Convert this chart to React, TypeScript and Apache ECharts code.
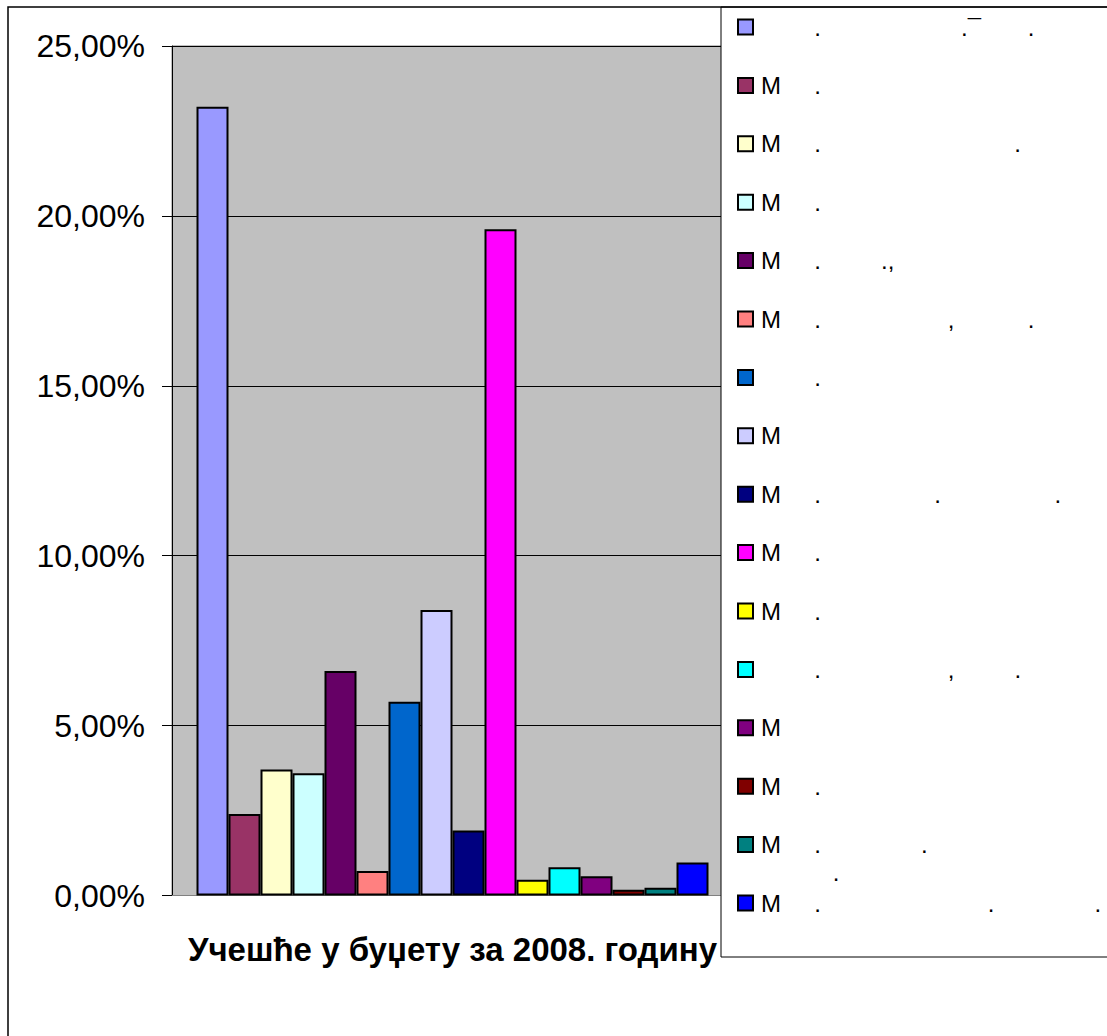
import React, { useEffect, useRef } from "react";
import * as echarts from "echarts";

const categories = ["Учешће у буџету за 2008. годину"];
const values = [23.21, 2.4, 3.71, 3.6, 6.61, 0.72, 5.7, 8.4, 1.91, 19.61, 0.46, 0.83, 0.57, 0.17, 0.23, 0.97];
const colors = [
  "#9999FF", "#993366", "#FFFFCC", "#CCFFFF", "#660066", "#FF8080", "#0066CC", "#CCCCFF",
  "#000080", "#FF00FF", "#FFFF00", "#00FFFF", "#800080", "#800000", "#008080", "#0000FF",
];
const sp = (n: number) => "\u00a0".repeat(n);
const legendLabels = [
  sp(8) + "." + sp(21) + ".\u00af" + sp(7) + ".",
  "M" + sp(5) + ".",
  "M" + sp(5) + "." + sp(29) + ".",
  "M" + sp(5) + ".",
  "M" + sp(5) + "." + sp(9) + ".,",
  "M" + sp(5) + "." + sp(19) + "," + sp(11) + ".",
  sp(8) + ".",
  "M",
  "M" + sp(5) + "." + sp(17) + "." + sp(17) + ".",
  "M" + sp(5) + ".",
  "M" + sp(5) + ".",
  sp(8) + "." + sp(19) + "," + sp(9) + ".",
  "M",
  "M" + sp(5) + ".",
  "M" + sp(5) + "." + sp(15) + ".",
  "M" + sp(5) + "." + sp(25) + "." + sp(15) + ".",
];
const yMin = 0;
const yMax = 25;
const yInterval = 5;

const FONT = "Liberation Sans, Arial, sans-serif";

export default function App() {
  const ref = useRef<HTMLDivElement>(null);
  useEffect(() => {
    if (!ref.current) return;
    const chart = echarts.init(ref.current, undefined, { renderer: "svg" });
    const seriesNames = values.map((_, i) => "s" + (i + 1));
    chart.setOption({
      animation: false,
      backgroundColor: "#FFFFFF",
      textStyle: { fontFamily: FONT },
      grid: {
        left: 172,
        top: 46,
        width: 561,
        height: 849.5,
        show: true,
        backgroundColor: "#C0C0C0",
        borderColor: "#808080",
        borderWidth: 1,
      },
      xAxis: {
        type: "category",
        data: categories,
        axisLine: { show: true, lineStyle: { color: "#808080", width: 1 } },
        axisTick: { show: false },
        axisLabel: {
          color: "#000",
          fontSize: 33,
          fontWeight: "bold",
          fontFamily: FONT,
          margin: 37,
        },
      },
      yAxis: {
        type: "value",
        min: yMin,
        max: yMax,
        interval: yInterval,
        axisLine: { show: true, lineStyle: { color: "#000", width: 1 } },
        axisTick: { show: true, length: 10, lineStyle: { color: "#000", width: 1 } },
        splitLine: { show: true, lineStyle: { color: "#000", width: 1 } },
        axisLabel: {
          color: "#000",
          fontSize: 32,
          fontFamily: FONT,
          margin: 27,
          formatter: (v: number) => v.toFixed(2).replace(".", ",") + "%",
        },
      },
      legend: {
        orient: "vertical",
        left: 737,
        top: 15,
        padding: 0,
        itemWidth: 15,
        itemHeight: 15,
        itemGap: 34.4,
        icon: "rect",
        selectedMode: false,
        data: seriesNames,
        formatter: (name: string) => legendLabels[seriesNames.indexOf(name)],
        textStyle: {
          color: "#000",
          fontSize: 24,
          lineHeight: 24,
          fontFamily: FONT,
          padding: [0, 0, 0, 3],
        },
        z: 5,
      },
      graphic: [
        {
          type: "rect",
          z: 3,
          shape: { x: 721, y: 7, width: 500, height: 950 },
          style: { fill: "#FFFFFF", stroke: "#000", lineWidth: 1 },
        },
        {
          type: "text",
          z: 6,
          x: 832.7,
          y: 872,
          style: { text: ".", fill: "#000", font: "24px " + FONT, textVerticalAlign: "middle" },
        },
        {
          type: "rect",
          z: 10,
          shape: { x: 8, y: 7, width: 1300, height: 1200 },
          style: { fill: "none", stroke: "#000", lineWidth: 1.5 },
        },
      ],
      series: values.map((v, i) => ({
        name: seriesNames[i],
        type: "bar",
        data: [v],
        barWidth: 32,
        barGap: "0%",
        itemStyle: { color: colors[i], borderColor: "#000", borderWidth: 2 },
      })),
    });
    return () => chart.dispose();
  }, []);
  return (
    <div
      ref={ref}
      style={{ position: "absolute", left: 0, top: 0, width: 1107, height: 1036 }}
    />
  );
}
